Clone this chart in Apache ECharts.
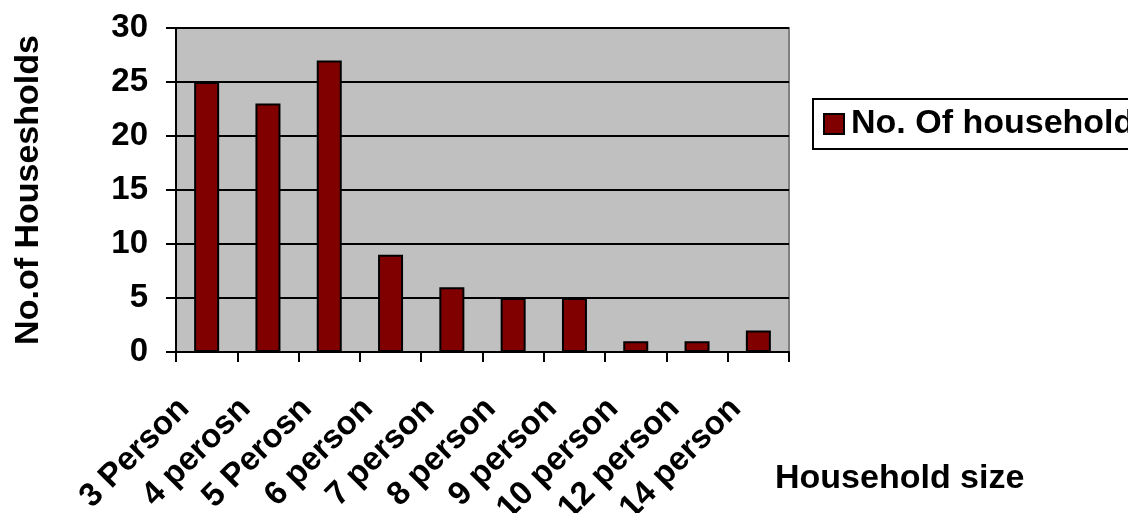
<!DOCTYPE html>
<html>
<head>
<meta charset="utf-8">
<script src="https://cdn.jsdelivr.net/npm/echarts@6/dist/echarts.min.js"></script>
<style>
  html, body { margin: 0; padding: 0; background: #fff; }
  #chart { width: 1128px; height: 513px; }
</style>
</head>
<body>
<div id="chart"></div>
<script>
// Household size categories and counts
const categories = ['3 Person', '4 perosn', '5 Perosn', '6 person', '7 person', '8 person', '9 person', '10 person', '12 person', '14 person'];
const households = [25, 23, 27, 9, 6, 5, 5, 1, 1, 2];
const seriesName = 'No. Of households';
const yAxisTitle = 'No.of Housesholds';
const xAxisTitle = 'Household size';

const font = 'Liberation Sans, Arial, sans-serif';
const bold = { fontFamily: font, fontWeight: 'bold', fontSize: 33, color: '#000' };
const boldTitle = Object.assign({}, bold, { fontSize: 34 });

const chart = echarts.init(document.getElementById('chart'), null, { renderer: 'canvas' });
chart.setOption({
  animation: false,
  backgroundColor: '#fff',
  grid: {
    left: 176, right: 339, top: 28, bottom: 161,
    show: true,
    backgroundColor: '#c0c0c0',
    borderColor: '#808080',
    borderWidth: 2,
    outerBoundsMode: 'none',
    containLabel: false
  },
  legend: {
    left: 813, top: 99,
    width: 400,
    padding: [8, 10, 8, 10],
    borderColor: '#000', borderWidth: 2,
    backgroundColor: '#fff',
    itemWidth: 20, itemHeight: 20,
    icon: 'rect',
    selectedMode: false,
    textStyle: Object.assign({}, boldTitle, { padding: [0, 0, 0, 2], overflow: 'none' }),
    data: [seriesName]
  },
  xAxis: {
    type: 'category',
    data: categories,
    name: xAxisTitle,
    nameLocation: 'end',
    nameGap: -14,
    nameTextStyle: Object.assign({}, boldTitle, { verticalAlign: 'top', align: 'left', padding: [110, 0, 0, 0] }),
    axisLine: { show: true, lineStyle: { color: '#000', width: 2 } },
    axisTick: { show: true, length: 10, lineStyle: { color: '#000', width: 2 } },
    axisLabel: Object.assign({}, bold, { rotate: 45, interval: 0, margin: 29, padding: [0, 32, 0, 0], hideOverlap: false }),
    splitLine: { show: false }
  },
  yAxis: {
    type: 'value',
    min: 0, max: 30, interval: 5,
    name: yAxisTitle,
    nameLocation: 'middle',
    nameGap: 130,
    nameRotate: 90,
    nameTextStyle: boldTitle,
    axisLine: { show: true, lineStyle: { color: '#000', width: 2 } },
    axisTick: { show: true, length: 10, lineStyle: { color: '#000', width: 2 } },
    axisLabel: Object.assign({}, bold, { margin: 28 }),
    splitLine: { show: true, lineStyle: { color: '#000', width: 2 } }
  },
  series: [{
    name: seriesName,
    type: 'bar',
    data: households,
    barWidth: 25,
    itemStyle: { color: '#800000', borderColor: '#000', borderWidth: 2 }
  }]
});
</script>
</body>
</html>
